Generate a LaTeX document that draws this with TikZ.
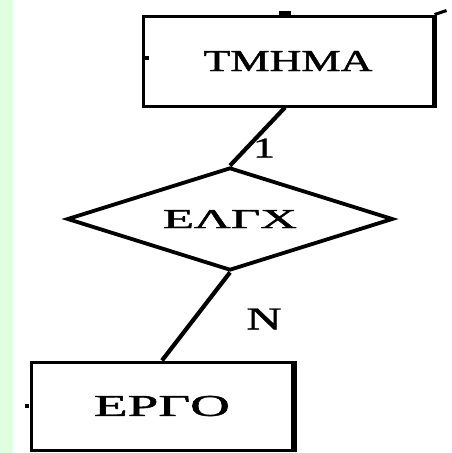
\documentclass[tikz,border=0pt]{standalone}
\usepackage{fontspec}
\usepackage{graphicx}
\setmainfont{Liberation Serif}
\newfontfamily\labelfont{Liberation Serif}[FakeBold=1.2]
\usetikzlibrary{shapes.geometric}
% stretch a label to a given width and cap height
\newcommand{\stretchlabel}[3]{\resizebox{#1}{#2}{\labelfont #3}}
\tikzset{
  entity/.style={draw=black, line width=3pt, rectangle, inner sep=0pt, fill=white},
  relation/.style={draw=black, line width=3.8pt, diamond, shape aspect=3.2, inner sep=0pt,
                   minimum width=326pt, minimum height=103pt},
  link/.style={draw=black, line width=4.2pt},
  card/.style={inner sep=0pt},
}
\begin{document}
\begin{tikzpicture}[x=1pt, y=-1pt]
  \useasboundingbox (0,0) rectangle (452,453);
  \fill[white] (0,0) rectangle (452,453);
  \fill[green!12] (0,0) rectangle (13,453);

  % entities and relationship
  \node[entity, minimum width=290pt, minimum height=90pt] (tmhma) at (288,61)
    {\stretchlabel{169pt}{20pt}{ΤΜΗΜΑ}};
  \node[relation] (elgx) at (230,219)
    {\stretchlabel{134pt}{18pt}{ΕΛΓΧ}};
  \node[entity, minimum width=261pt, minimum height=88pt] (ergo) at (162,406)
    {\stretchlabel{136pt}{20pt}{ΕΡΓΟ}};

  % thicker right-hand edges
  \draw[line width=5pt] (tmhma.north east) -- (tmhma.south east);
  \draw[line width=5pt] (ergo.north east) -- (ergo.south east);
  % small marks on the boxes
  \draw[line width=3pt] (tmhma.north east) -- ++(12,-4);
  \fill (tmhma.north) ++(-9,-4) rectangle ++(12,4);
  \fill (tmhma.west) ++(3,-5) rectangle ++(4,4);
  \fill (ergo.west) ++(-5,-2) rectangle ++(4,4);

  % connectors
  \draw[link] ([xshift=-3pt]tmhma.south) -- (elgx.north);
  \draw[link] (elgx.south) -- (ergo.north);

  % cardinalities
  \node[card] (c1) at (264,148) {\stretchlabel{22pt}{19pt}{1}};
  \node[card] (cn) at (264,319) {\stretchlabel{35pt}{21pt}{N}};
\end{tikzpicture}
\end{document}
